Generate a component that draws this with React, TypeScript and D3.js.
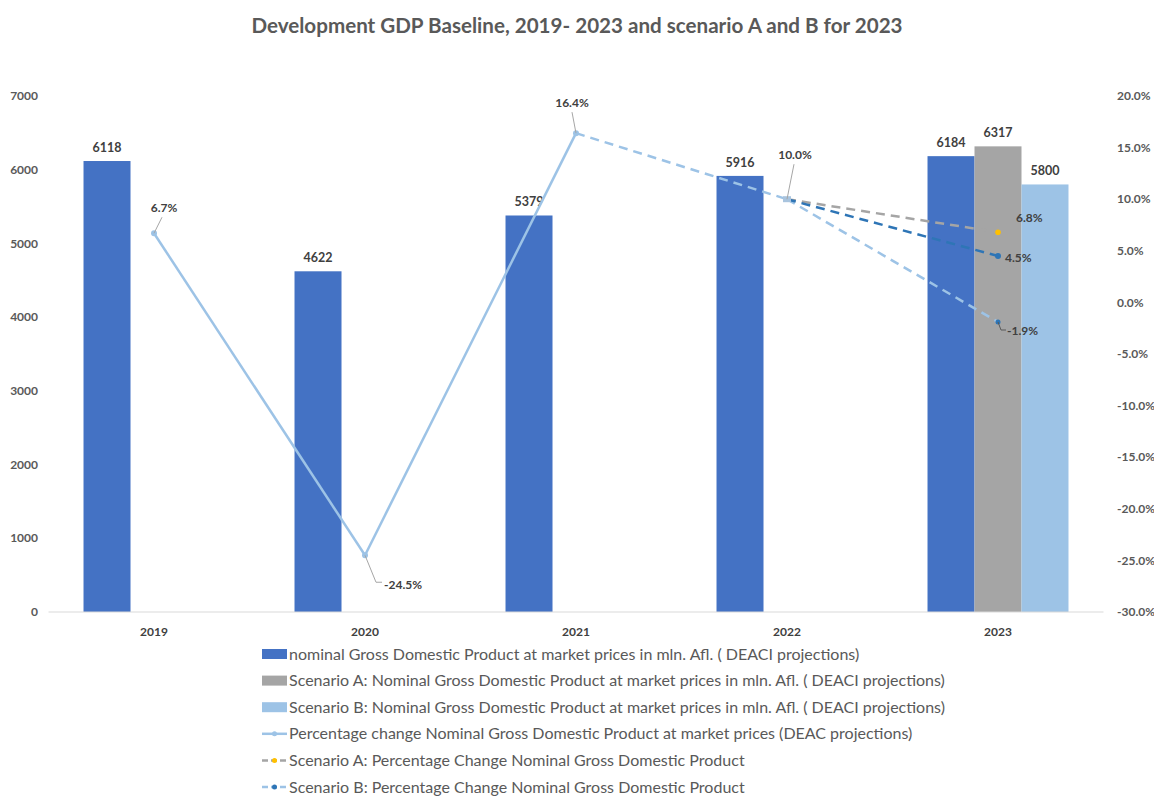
import React from 'react'
import * as d3 from 'd3'

// chart values
const years = ['2019', '2020', '2021', '2022', '2023']
const gdpBaseline = [6118, 4622, 5379, 5916, 6184]
const gdpScenarioA = [null, null, null, null, 6317]
const gdpScenarioB = [null, null, null, null, 5800]
const pctBaseline = [6.7, -24.5, 16.4, 10.0, 4.5]
const pctScenarioA = [null, null, null, 10.0, 6.8]
const pctScenarioB = [null, null, null, 10.0, -1.9]
const leftTicks = [0, 1000, 2000, 3000, 4000, 5000, 6000, 7000]
const rightTicks = [20, 15, 10, 5, 0, -5, -10, -15, -20, -25, -30]
const legendLabels = [
  'nominal Gross Domestic Product at market prices in mln. Afl. ( DEACI projections)',
  'Scenario A: Nominal Gross Domestic Product at market prices in mln. Afl. ( DEACI projections)',
  'Scenario B: Nominal Gross Domestic Product at market prices in mln. Afl. ( DEACI projections)',
  'Percentage change Nominal Gross Domestic Product at market prices (DEAC projections)',
  'Scenario A: Percentage Change Nominal Gross Domestic Product',
  'Scenario B: Percentage Change Nominal Gross Domestic Product',
]

const W = 1154
const H = 796
const FONT = 'Lato, "Open Sans", sans-serif'
const TEXT = '#595959'
const LABEL = '#404040'

const C_BAR = '#4472C4'
const C_BAR_A = '#A5A5A5'
const C_BAR_B = '#9DC3E6'
const C_LINE = '#9DC3E6'
const C_DARK = '#2E75B6'
const C_GOLD = '#FFC000'

const barSeries = [
  { key: 'base', values: gdpBaseline, color: C_BAR },
  { key: 'a', values: gdpScenarioA, color: C_BAR_A },
  { key: 'b', values: gdpScenarioB, color: C_BAR_B },
]

// segment styles of the baseline % line (from point i to i+1)
const baseSegStyle = [
  { color: C_LINE, dash: null },
  { color: C_LINE, dash: null },
  { color: C_LINE, dash: '9,6' },
  { color: C_DARK, dash: '9,6' },
]

// label placement per baseline % point
const baseLabelPos: any[] = [
  { dx: 10, dy: -25, anchor: 'middle', leader: [[0, 0], [8, -16]] },
  { dx: 19, dy: 30, anchor: 'start', leader: [[0, 0], [11, 27], [17, 27]] },
  { dx: -4, dy: -30, anchor: 'middle', leader: [[0, 0], [-4, -21]] },
  { dx: 8, dy: -44, anchor: 'middle', leader: [[0, 0], [7, -35]] },
  { dx: 7, dy: 2, anchor: 'start', leader: null },
]

const App: React.FC = () => {
  const plotLeft = 48.5
  const plotRight = 1103.5
  const plotTop = 96
  const plotBottom = 612

  const x = d3.scaleBand<string>().domain(years).range([plotLeft, plotRight]).padding(0)
  const xi = d3
    .scaleBand<string>()
    .domain(barSeries.map((s) => s.key))
    .range([0, x.bandwidth()])
    .paddingOuter(0.745)
    .paddingInner(0)
  const yL = d3.scaleLinear().domain([0, 7000]).range([plotBottom, plotTop])
  const yR = d3.scaleLinear().domain([-30, 20]).range([plotBottom, plotTop])
  const cx = (i: number) => (x(years[i]) as number) + x.bandwidth() / 2

  const fmtPct = (v: number) => `${v.toFixed(1)}%`

  const line = d3
    .line<[number, number]>()
    .x((d) => d[0])
    .y((d) => d[1])

  const scenarioLine = (vals: (number | null)[]) =>
    line(
      vals
        .map((v, i) => (v == null ? null : ([cx(i), yR(v)] as [number, number])))
        .filter((p) => p != null) as [number, number][]
    )

  const lastIdx = years.length - 1

  return (
    <svg width={W} height={H} style={{ position: 'absolute', left: 0, top: 0, background: '#fff' }}>
      <rect width={W} height={H} fill="#fff" />
      <text
        x={W / 2}
        y={33}
        textAnchor="middle"
        fontFamily={FONT}
        fontWeight="bold"
        fontSize={20.6}
        fill={TEXT}
      >
        Development GDP Baseline, 2019- 2023 and scenario A and B for 2023
      </text>

      {/* left axis */}
      {leftTicks.map((t) => (
        <text
          key={'l' + t}
          x={38}
          y={yL(t)}
          dy="0.35em"
          textAnchor="end"
          fontFamily={FONT}
          fontSize={12}
          fontWeight="bold"
          fill={TEXT}
        >
          {t}
        </text>
      ))}
      {/* right axis */}
      {rightTicks.map((t) => (
        <text
          key={'r' + t}
          x={1117}
          y={yR(t)}
          dy="0.35em"
          textAnchor="start"
          fontFamily={FONT}
          fontSize={12}
          fontWeight="bold"
          fill={TEXT}
        >
          {fmtPct(t)}
        </text>
      ))}

      {/* bars */}
      {barSeries.map((s) =>
        s.values.map((v, i) =>
          v == null ? null : (
            <g key={s.key + i}>
              <rect
                x={(x(years[i]) as number) + (xi(s.key) as number)}
                y={yL(v)}
                width={xi.bandwidth()}
                height={yL(0) - yL(v)}
                fill={s.color}
              />
              <text
                x={(x(years[i]) as number) + (xi(s.key) as number) + xi.bandwidth() / 2}
                y={yL(v) - 9}
                textAnchor="middle"
                fontFamily={FONT}
                fontSize={12.5}
                fontWeight="bold"
                fill={LABEL}
              >
                {v}
              </text>
            </g>
          )
        )
      )}

      {/* baseline */}
      <line x1={plotLeft} x2={plotRight} y1={plotBottom} y2={plotBottom} stroke="#D9D9D9" strokeWidth={1} />

      {/* category labels */}
      {years.map((yv, i) => (
        <text
          key={yv}
          x={cx(i)}
          y={636}
          textAnchor="middle"
          fontFamily={FONT}
          fontSize={12}
          fontWeight="bold"
          fill={LABEL}
        >
          {yv}
        </text>
      ))}

      {/* scenario lines */}
      <path d={scenarioLine(pctScenarioA) || ''} fill="none" stroke={C_BAR_A} strokeWidth={2.5} strokeDasharray="9,6" />
      <path d={scenarioLine(pctScenarioB) || ''} fill="none" stroke={C_LINE} strokeWidth={2.5} strokeDasharray="9,6" />

      {/* baseline % line */}
      {pctBaseline.slice(0, -1).map((v, i) => (
        <path
          key={'seg' + i}
          d={line([
            [cx(i), yR(v)],
            [cx(i + 1), yR(pctBaseline[i + 1])],
          ]) || ''}
          fill="none"
          stroke={baseSegStyle[i].color}
          strokeWidth={2.5}
          strokeDasharray={baseSegStyle[i].dash || undefined}
        />
      ))}
      {pctBaseline.map((v, i) =>
        i === 3 ? (
          <rect key={'m' + i} x={cx(i) - 4} y={yR(v) - 3} width={8} height={6} fill="#A9C4DE" />
        ) : (
          <circle key={'m' + i} cx={cx(i)} cy={yR(v)} r={3} fill={i === lastIdx ? C_DARK : C_LINE} />
        )
      )}
      <circle cx={cx(lastIdx)} cy={yR(pctScenarioA[lastIdx] as number)} r={2.8} fill={C_GOLD} />
      <circle cx={cx(lastIdx)} cy={yR(pctScenarioB[lastIdx] as number)} r={2.5} fill={C_DARK} />

      {/* baseline % labels */}
      {pctBaseline.map((v, i) => {
        const p = baseLabelPos[i]
        const px = cx(i)
        const py = yR(v)
        return (
          <g key={'pl' + i}>
            {p.leader && (
              <path
                d={line(p.leader.map((q: number[]) => [px + q[0], py + q[1]] as [number, number])) || ''}
                fill="none"
                stroke="#A6A6A6"
                strokeWidth={1}
              />
            )}
            <text
              x={px + p.dx}
              y={py + p.dy}
              dy="0.35em"
              textAnchor={p.anchor}
              fontFamily={FONT}
              fontSize={12}
              fontWeight="bold"
              fill={LABEL}
            >
              {fmtPct(v)}
            </text>
          </g>
        )
      })}
      {/* scenario labels */}
      <text
        x={cx(lastIdx) + 18}
        y={yR(pctScenarioA[lastIdx] as number) - 14}
        dy="0.35em"
        fontFamily={FONT}
        fontSize={12}
        fontWeight="bold"
        fill={LABEL}
      >
        {fmtPct(pctScenarioA[lastIdx] as number)}
      </text>
      <path
        d={line([
          [cx(lastIdx), yR(pctScenarioB[lastIdx] as number)],
          [cx(lastIdx) + 3, yR(pctScenarioB[lastIdx] as number) + 8],
          [cx(lastIdx) + 8, yR(pctScenarioB[lastIdx] as number) + 8],
        ]) || ''}
        fill="none"
        stroke="#595959"
        strokeWidth={1}
      />
      <text
        x={cx(lastIdx) + 9}
        y={yR(pctScenarioB[lastIdx] as number) + 9}
        dy="0.35em"
        fontFamily={FONT}
        fontSize={12}
        fontWeight="bold"
        fill={LABEL}
      >
        {fmtPct(pctScenarioB[lastIdx] as number)}
      </text>

      {/* legend */}
      {legendLabels.map((lab, i) => {
        const ly = 654 + i * 26.6
        let sym: React.ReactNode
        if (i < 3) {
          sym = <rect x={262} y={ly - 5} width={25} height={10} fill={barSeries[i].color} />
        } else {
          const col = i === 4 ? C_BAR_A : C_LINE
          const mk = i === 3 ? C_LINE : i === 4 ? C_GOLD : C_DARK
          sym = (
            <g>
              <line
                x1={262}
                x2={287}
                y1={ly}
                y2={ly}
                stroke={col}
                strokeWidth={2.5}
                strokeDasharray={i === 3 ? undefined : '6,3'}
              />
              <circle cx={274.5} cy={ly} r={2.5} fill={mk} />
            </g>
          )
        }
        return (
          <g key={'lg' + i}>
            {sym}
            <text x={289} y={ly} dy="0.35em" fontFamily={FONT} fontSize={16} fill={TEXT}>
              {lab}
            </text>
          </g>
        )
      })}
    </svg>
  )
}

export default App
